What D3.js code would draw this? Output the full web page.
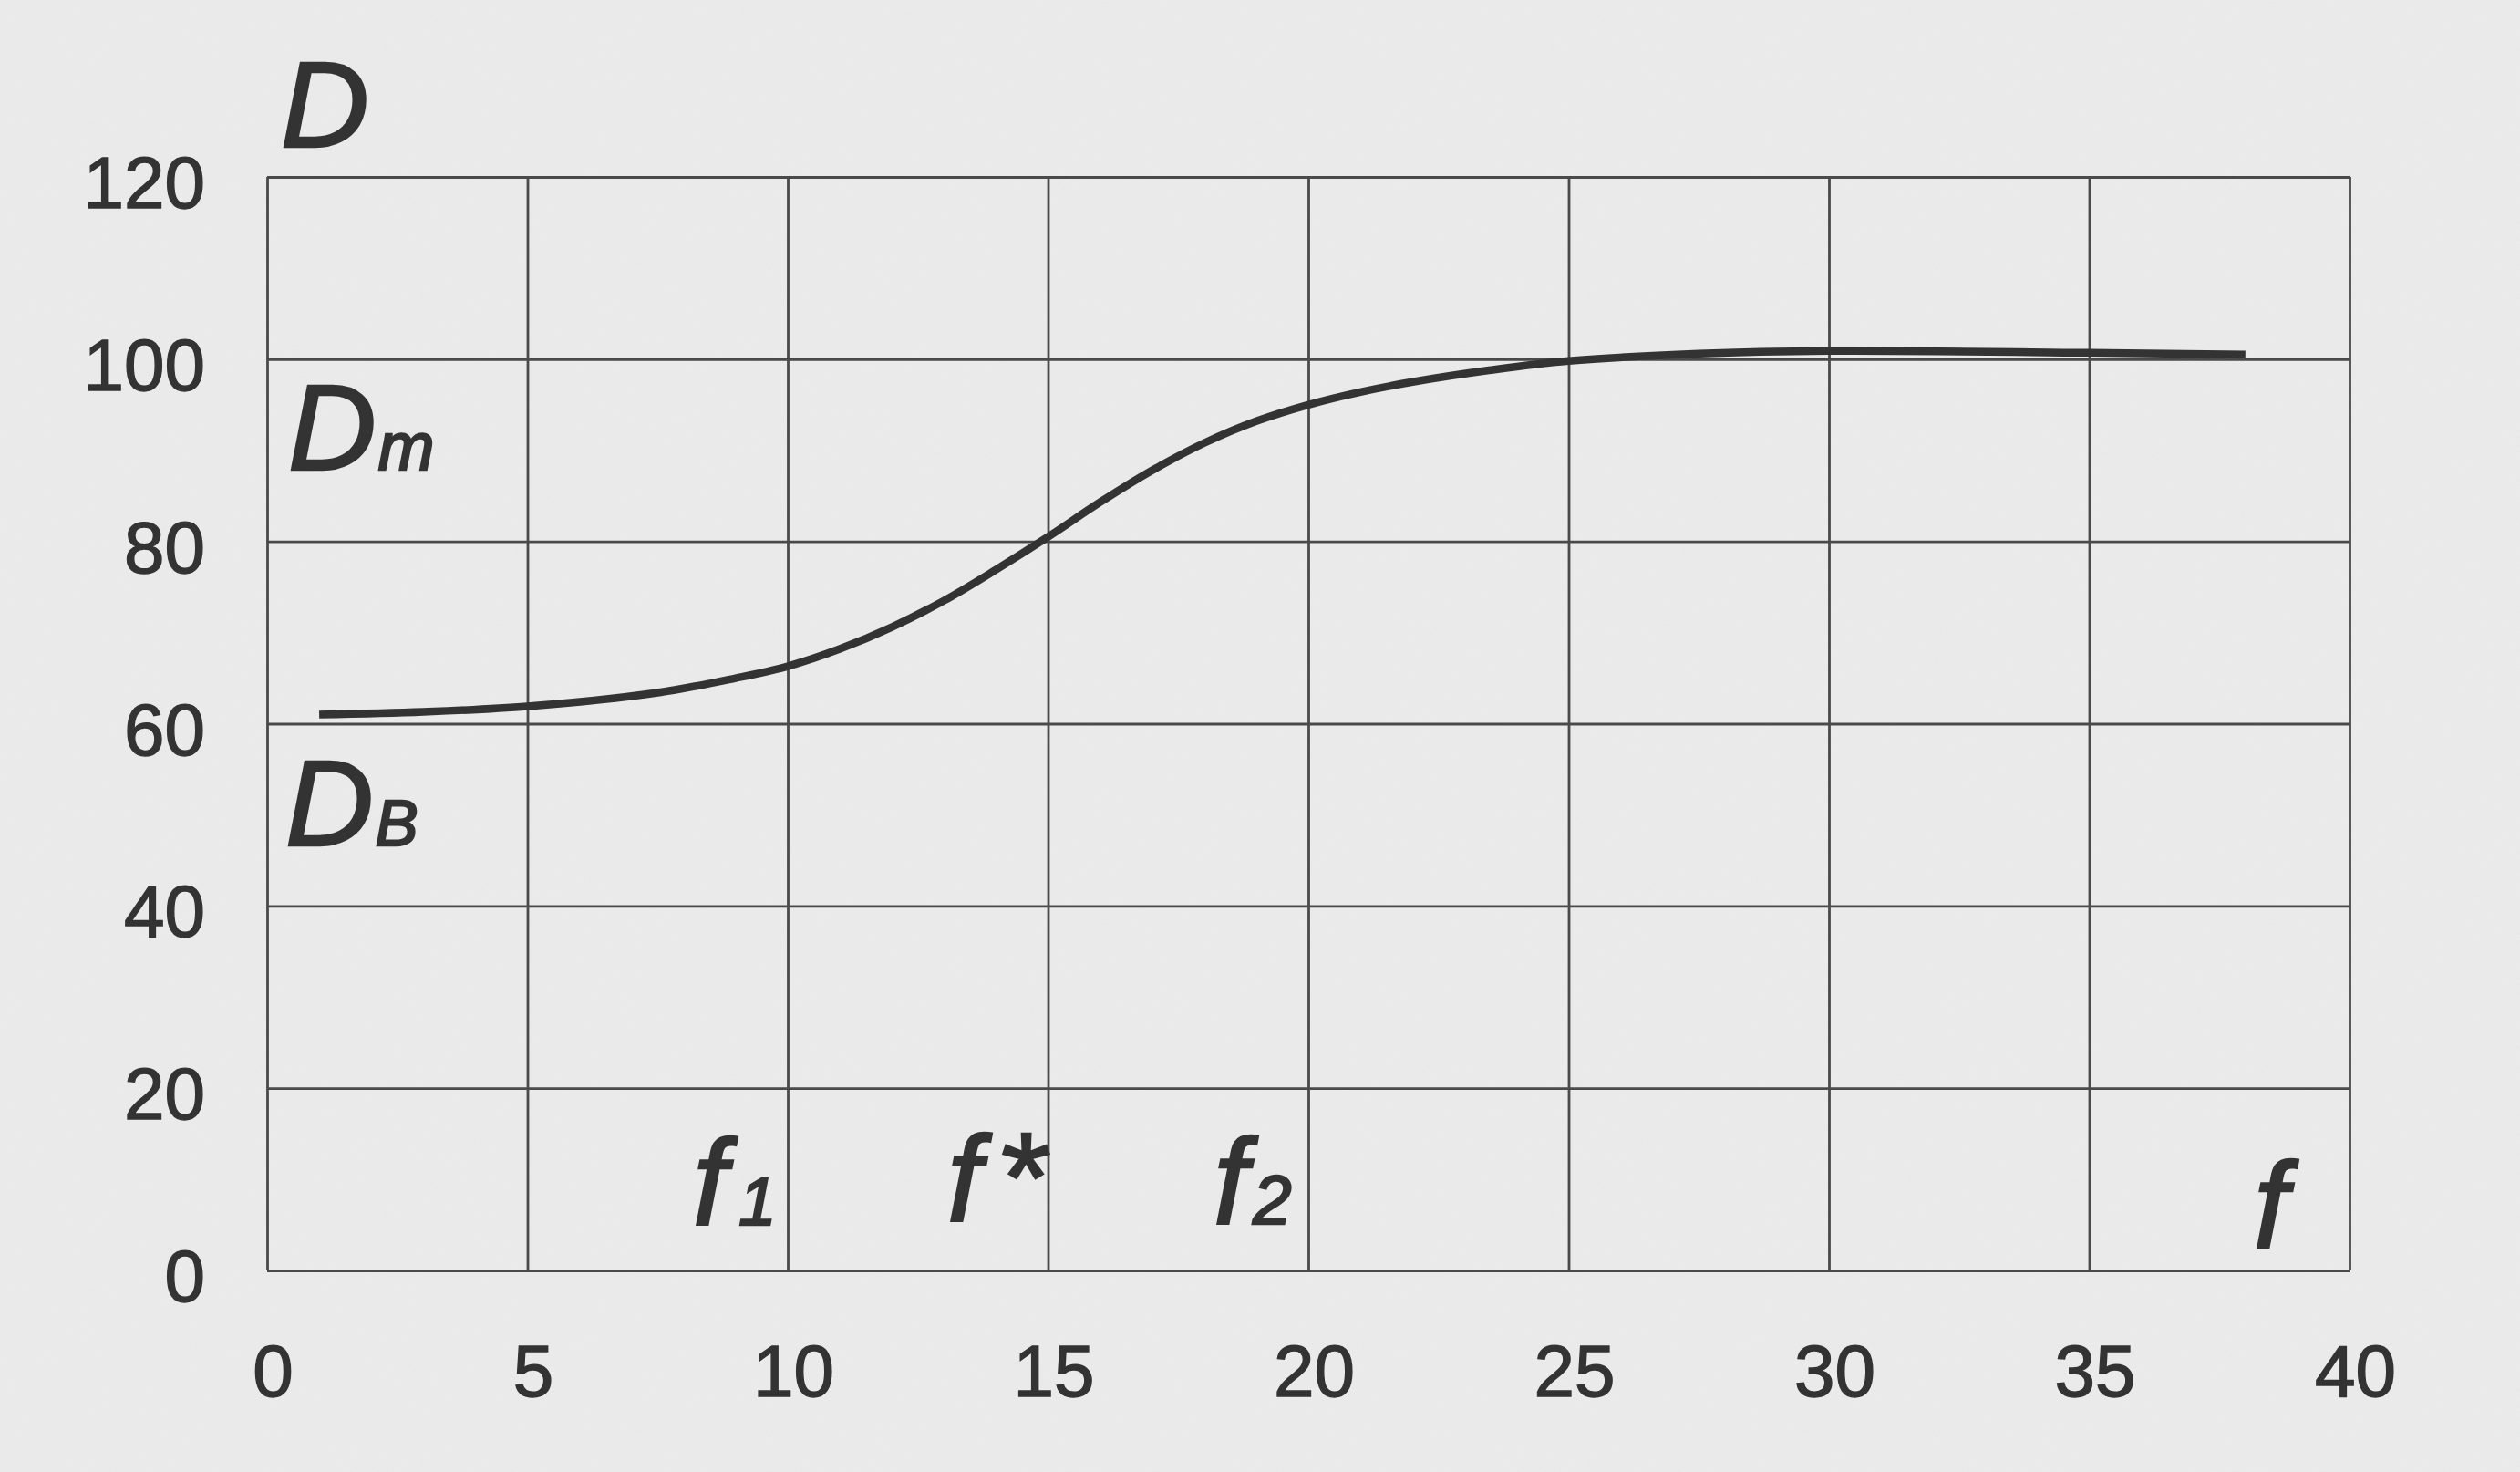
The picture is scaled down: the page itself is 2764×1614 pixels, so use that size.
<!DOCTYPE html>
<html>
<head>
<meta charset="utf-8">
<script src="https://cdn.jsdelivr.net/npm/d3@7"></script>
<style>
  html, body { margin: 0; padding: 0; background: #ebebeb; }
  svg { display: block; }
  text { font-family: "Liberation Sans", Arial, Helvetica, sans-serif; }
</style>
</head>
<body>
<svg id="chart" width="2764" height="1614"></svg>
<script>
// ---- data ----
const fValues = [1, 3, 5, 7.5, 9, 10, 11, 12, 13, 14, 15, 16, 17, 18, 19, 20, 21, 22, 23.5, 25, 27.5, 30, 35, 38];
const dValues = [61.0, 61.3, 61.9, 63.4, 65.0, 66.3, 68.2, 70.6, 73.5, 76.9, 80.5, 84.3, 87.8, 90.8, 93.2, 95.0, 96.4, 97.5, 98.8, 99.8, 100.6, 100.9, 100.7, 100.5];
const xTickValues = [0, 5, 10, 15, 20, 25, 30, 35, 40];
const yTickValues = [0, 20, 40, 60, 80, 100, 120];

(function () {
  // ---- layout ----
  const W = 2764, H = 1614;
  const mLeft = 293, mRight = 2577, mTop = 194, mBottom = 1393;
  const ink = "#333333";
  const gridColor = "#4a4a4a";

  const svg = d3.select("#chart");
  const defs = svg.append("defs");
  const flt = defs.append("filter").attr("id", "paper").attr("x", 0).attr("y", 0).attr("width", 1).attr("height", 1);
  flt.append("feTurbulence").attr("type", "fractalNoise").attr("baseFrequency", 0.6).attr("numOctaves", 2).attr("seed", 3);
  flt.append("feColorMatrix").attr("type", "matrix")
    .attr("values", "0 0 0 0 0.55  0 0 0 0 0.55  0 0 0 0 0.55  0 0 0 0.10 0");

  svg.append("rect").attr("width", W).attr("height", H).attr("fill", "#ececec");
  svg.append("rect").attr("width", W).attr("height", H).attr("filter", "url(#paper)");

  const x = d3.scaleLinear().domain([0, 40]).range([mLeft, mRight]);
  const y = d3.scaleLinear().domain([0, 120]).range([mBottom, mTop]);

  // horizontal grid + y labels
  const yAxis = svg.append("g")
    .attr("transform", `translate(${mLeft},0)`)
    .call(d3.axisLeft(y).tickValues(yTickValues).tickSize(-(mRight - mLeft)).tickPadding(68).tickFormat(d3.format("d")));
  yAxis.select(".domain").remove();
  yAxis.selectAll(".tick line").attr("stroke", gridColor).attr("stroke-width", 2.8);
  yAxis.selectAll(".tick text")
    .attr("fill", ink).attr("font-size", 80).attr("dy", "0.42em")
    .attr("stroke", ink).attr("stroke-width", 1.4);

  // vertical grid + x labels
  const xAxis = svg.append("g")
    .attr("transform", `translate(0,${mBottom})`)
    .call(d3.axisBottom(x).tickValues(xTickValues).tickSize(-(mBottom - mTop)).tickPadding(81).tickFormat(d3.format("d")));
  xAxis.select(".domain").remove();
  xAxis.selectAll(".tick line").attr("stroke", gridColor).attr("stroke-width", 2.8);
  xAxis.selectAll(".tick text")
    .attr("fill", ink).attr("font-size", 80).attr("dx", 6)
    .attr("stroke", ink).attr("stroke-width", 1.4);

  // curve
  const pts = fValues.map((f, i) => [f, dValues[i]]);
  svg.append("path")
    .datum(pts)
    .attr("fill", "none")
    .attr("stroke", ink)
    .attr("stroke-width", 8.5)
    .attr("stroke-linecap", "butt")
    .attr("d", d3.line().x(d => x(d[0])).y(d => y(d[1])).curve(d3.curveCatmullRom.alpha(0.5)));

  // annotations (italic symbols)
  const notes = svg.append("g").attr("font-style", "italic").attr("fill", ink)
    .attr("stroke", ink).attr("stroke-width", 2.5);

  function label(px, py, main, sub, subSize, subDx) {
    const t = notes.append("text").attr("x", px).attr("y", py).attr("font-size", 134);
    t.append("tspan").text(main);
    if (sub) t.append("tspan").attr("font-size", subSize).attr("dx", subDx).text(sub);
    return t;
  }
  label(x(0) + 15, y(0) - 1232, "D");
  label(x(0) + 23, y(0) - 878, "D", "m", 74, 2);
  label(x(0) + 20, y(0) - 466, "D", "B", 70, 2);
  label(x(0) + 467, y(0) - 50, "f", "1", 74, 13);
  label(x(0) + 746, y(0) - 54, "f", "*", 140, 16);
  label(x(0) + 1038, y(0) - 51, "f", "2", 76, 6);
  label(x(0) + 2179, y(0) - 25, "f");
})();
</script>
</body>
</html>
